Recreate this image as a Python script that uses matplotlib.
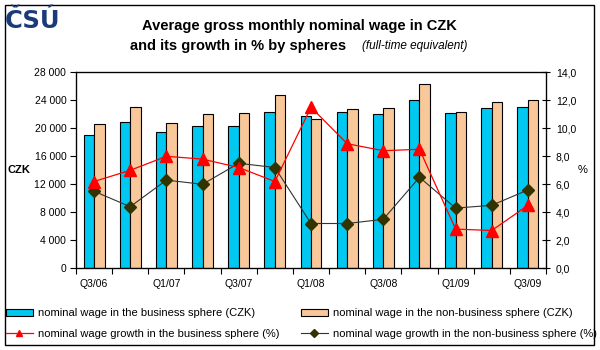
import matplotlib
matplotlib.use("Agg")
import matplotlib.pyplot as plt
from matplotlib.patches import Rectangle, Patch
from matplotlib.lines import Line2D
import numpy as np

plt.rcParams['font.family'] = ['Liberation Sans', 'DejaVu Sans']

categories = ["Q3/06", "Q4/06", "Q1/07", "Q2/07", "Q3/07", "Q4/07", "Q1/08",
              "Q2/08", "Q3/08", "Q4/08", "Q1/09", "Q2/09", "Q3/09"]
wage_business = [19000, 20900, 19500, 20400, 20400, 22300, 21700,
                 22300, 22100, 24100, 22200, 22900, 23100]
wage_nonbusiness = [20600, 23000, 20700, 22000, 22200, 24700, 21400,
                    22700, 22900, 26300, 22300, 23700, 24100]
growth_business = [6.2, 7.0, 8.0, 7.8, 7.2, 6.2, 11.5,
                   8.9, 8.4, 8.5, 2.8, 2.7, 4.5]
growth_nonbusiness = [5.5, 4.4, 6.3, 6.0, 7.5, 7.2, 3.2,
                      3.2, 3.5, 6.5, 4.3, 4.5, 5.6]
left_ticks = [0, 4000, 8000, 12000, 16000, 20000, 24000, 28000]
right_ticks = [0, 2, 4, 6, 8, 10, 12, 14]

blue = '#00C8F0'
orange = '#F8C89A'
red = '#FF0000'
dark = '#333300'

W, H = 600, 350
fig = plt.figure(figsize=(6, 3.5), dpi=100)

def fx(px):
    return px / W

def fy(py):
    return 1 - py / H

ax = fig.add_axes([fx(76), fy(268.3), fx(546) - fx(76), fy(72.3) - fy(268.3)])
x = np.arange(len(categories))
w = 0.29
ax.bar(x - w / 2, wage_business, w, color=blue, edgecolor='black', linewidth=0.8, zorder=2)
ax.bar(x + w / 2, wage_nonbusiness, w, color=orange, edgecolor='black', linewidth=0.8, zorder=2)
ax.set_xlim(-0.5, len(categories) - 0.5)
ax.set_ylim(0, 28000)
ax.set_yticks(left_ticks)
ax.set_yticklabels([f"{v:,}".replace(",", " ") for v in left_ticks], fontsize=7.5)
ax.set_xticks(x[::2])
ax.set_xticklabels(categories[::2], fontsize=7.5)
ax.tick_params(axis='x', which='major', length=0, pad=8)
ax.set_xticks(np.arange(-0.5, len(categories), 1.0), minor=True)
ax.tick_params(axis='x', which='minor', length=4, width=0.8)
ax.tick_params(axis='y', length=4, width=0.8, pad=3)
for s in ax.spines.values():
    s.set_linewidth(0.9)

ax2 = ax.twinx()
ax2.plot(x, growth_business, color=red, lw=0.9, marker='^', markersize=8.5,
         markerfacecolor=red, markeredgecolor=red, zorder=4)
ax2.plot(x, growth_nonbusiness, color='#333333', lw=0.8, marker='D', markersize=6,
         markerfacecolor=dark, markeredgecolor=dark, zorder=3)
ax2.set_ylim(0, 14)
ax2.set_yticks(right_ticks)
ax2.set_yticklabels([f"{v:.1f}".replace(".", ",") for v in right_ticks], fontsize=7.5)
ax2.tick_params(axis='y', direction='inout', length=6, width=0.8, pad=4)
ax2.set_xlim(-0.5, len(categories) - 0.5)

# titles and axis labels
fig.text(fx(299), fy(26), "Average gross monthly nominal wage in CZK", ha='center', va='center',
         fontsize=10.5, fontweight='bold')
fig.text(fx(130), fy(46), "and its growth in % by spheres", ha='left', va='center',
         fontsize=10.5, fontweight='bold')
fig.text(fx(362), fy(46), "(full-time equivalent)", ha='left', va='center',
         fontsize=8.5, fontstyle='italic')
fig.text(fx(8), fy(170), "CZK", ha='left', va='center', fontsize=8, fontweight='bold')
fig.text(fx(583), fy(170), "%", ha='center', va='center', fontsize=8)

# logo
fig.text(fx(5), fy(28.5), "ČSÚ", ha='left', va='baseline', fontsize=17.5, fontweight='heavy',
         color='#1B3A7A', family=['DejaVu Sans'])

# legend
handles = [
    Patch(facecolor=blue, edgecolor='black', linewidth=0.8),
    Line2D([], [], color=red, lw=0.9, marker='^', markersize=5, markerfacecolor=red, markeredgecolor=red),
    Patch(facecolor=orange, edgecolor='black', linewidth=0.8),
    Line2D([], [], color='#333333', lw=0.8, marker='D', markersize=4, markerfacecolor=dark, markeredgecolor=dark),
]
labels = [
    "nominal wage in the business sphere (CZK)",
    "nominal wage growth in the business sphere (%)",
    "nominal wage in the non-business sphere (CZK)",
    "nominal wage growth in the non-business sphere (%)",
]
fig.legend(handles, labels, loc='upper left', bbox_to_anchor=(fx(6), fy(308)), ncol=2,
           frameon=False, fontsize=8, handlelength=2.4, handleheight=0.6, handletextpad=0.5,
           columnspacing=1.9, labelspacing=0.95, borderpad=0, borderaxespad=0)

# outer frame
fig.patches.append(Rectangle((fx(5), fy(345)), fx(594) - fx(5), fy(5) - fy(345),
                             transform=fig.transFigure, fill=False, edgecolor='black',
                             linewidth=1.0, zorder=0))

fig.savefig("out.png", dpi=100)
